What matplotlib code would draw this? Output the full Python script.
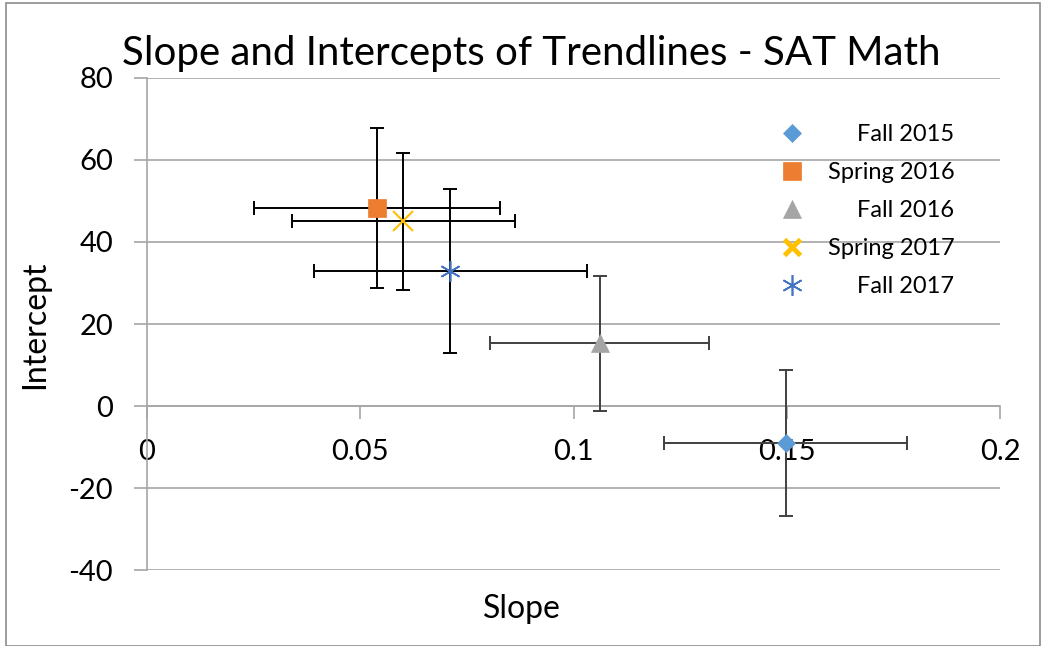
import matplotlib
matplotlib.use('Agg')
import matplotlib.pyplot as plt
from matplotlib.patches import Rectangle

plt.rcParams['font.family'] = ['Lato', 'DejaVu Sans']
plt.rcParams['axes.unicode_minus'] = False

# data
terms = ['Fall 2015', 'Spring 2016', 'Fall 2016', 'Spring 2017', 'Fall 2017']
slopes = [0.1497, 0.0539, 0.1061, 0.0601, 0.0711]
intercepts = [-9.0, 48.3, 15.3, 45.1, 33.0]
slope_err = [0.0285, 0.0289, 0.0257, 0.0262, 0.032]
intercept_err = [17.9, 19.5, 16.5, 16.7, 20.0]

colors = ['#5B9BD5', '#ED7D31', '#A5A5A5', '#FFC000', '#4472C4']
markers = ['D', 's', '^', 'x', (6, 2, 0)]
msizes = [9, 13, 13, 14, 15]
edge_w = [0.5, 0.5, 0.5, 1.5, 1.2]
ecolors = ['#404040', 'black', '#404040', 'black', 'black']

fig = plt.figure(figsize=(10.44, 6.46), dpi=100)
ax = fig.add_axes([0.1408, 0.1176, 0.8171, 0.7617])

# outer chart border
fig.patches.append(Rectangle((0.006, 0.0), 0.99, 0.996, transform=fig.transFigure,
                             fill=False, edgecolor='#8C8C8C', linewidth=1.2))

for i in range(len(terms)):
    ax.errorbar(slopes[i], intercepts[i], xerr=slope_err[i], yerr=intercept_err[i],
                fmt='none', ecolor=ecolors[i], elinewidth=1.4, capsize=4.7, capthick=1.4, zorder=3)
    ax.plot(slopes[i], intercepts[i], linestyle='none', marker=markers[i], color=colors[i],
            markersize=msizes[i], markeredgewidth=edge_w[i], label=terms[i], zorder=4)

ax.set_xlim(0, 0.2)
ax.set_ylim(-40, 80)
ax.set_xticks([0, 0.05, 0.1, 0.15, 0.2])
ax.set_xticklabels(['0', '0.05', '0.1', '0.15', '0.2'])
ax.set_yticks(range(-40, 81, 20))

ax.grid(axis='y', color='#A6A6A6', linewidth=1.2)
ax.set_axisbelow(True)
for s in ['top', 'right']:
    ax.spines[s].set_visible(False)
ax.spines['left'].set_color('#A6A6A6')
ax.spines['left'].set_linewidth(1.2)
ax.spines['bottom'].set_position(('data', 0))
ax.spines['bottom'].set_color('#A6A6A6')
ax.spines['bottom'].set_linewidth(1.2)

ax.tick_params(axis='y', length=9.5, width=1.2, color='#A6A6A6', pad=15, labelsize=21)
ax.tick_params(axis='x', length=9.5, width=1.2, color='#A6A6A6', pad=14, labelsize=21)

ax.set_title('Slope and Intercepts of Trendlines - SAT Math', fontsize=29, pad=9, x=0.45)
ax.set_xlabel('Slope', fontsize=23)
ax.xaxis.set_label_coords(0.44, -0.049)
ax.set_ylabel('Intercept', fontsize=23)
ax.yaxis.set_label_coords(-0.114, 0.498)

leg = ax.legend(loc='upper left', bbox_to_anchor=(0.7175, 0.925), frameon=False,
                prop={'size': 17}, labelspacing=0.72,
                handletextpad=0.5, borderaxespad=0)
leg.legend_handles[3].set_markeredgewidth(3.5)
leg.legend_handles[3].set_markersize(11)

# right-align legend labels like the original
fig.canvas.draw()
renderer = fig.canvas.get_renderer()
widths = [t.get_window_extent(renderer).width for t in leg.get_texts()]
shift = max(widths)
for t, w in zip(leg.get_texts(), widths):
    t.set_position((shift - w, 0))

fig.savefig('out.png', dpi=100)
